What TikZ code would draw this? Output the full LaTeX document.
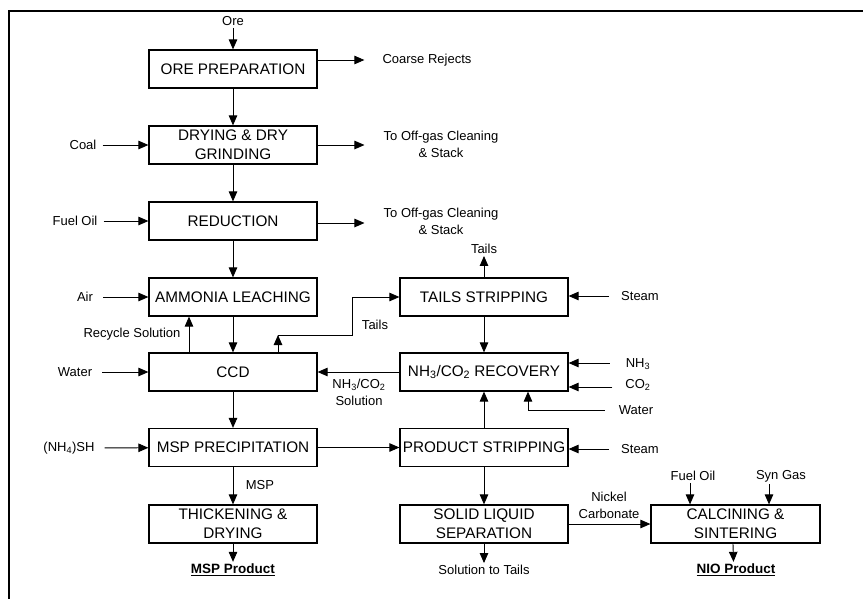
\documentclass[tikz,border=0pt]{standalone}
\usepackage{fontspec}
\setmainfont{Liberation Sans}
\usetikzlibrary{arrows.meta}
\begin{document}
\begin{tikzpicture}[x=1pt,y=-1pt,
  box/.style={draw, line width=1.2pt, minimum width=168pt, minimum height=38pt, inner sep=0pt, align=center, font=\fontsize{15.3}{19}\selectfont},
  lbl/.style={inner sep=2pt, align=center, font=\fontsize{13}{17}\selectfont},
  prod/.style={inner sep=2pt, font=\fontsize{13.5}{16}\selectfont\bfseries},
  arr/.style={draw, line width=0.9pt, -{Triangle[length=10pt,width=8.5pt]}},
]
\useasboundingbox (0,0) rectangle (863,598);
\draw[line width=1.5pt] (9,600) -- (9,11) -- (865,11);

% left column
\node[box] (ore) at (233,69) {ORE PREPARATION};
\node[box] (dry) at (233,145) {DRYING \& DRY\\GRINDING};
\node[box] (red) at (233,221) {REDUCTION};
\node[box] (amm) at (233,297) {AMMONIA LEACHING};
\node[box] (ccd) at (233,372) {CCD};
\node[box] (msp) at (233,447.5) {MSP PRECIPITATION};
\node[box] (thk) at (233,524) {THICKENING \&\\DRYING};
% right column
\node[box] (ts) at (484,297) {TAILS STRIPPING};
\node[box] (rec) at (484,372) {NH\textsubscript{3}/CO\textsubscript{2} RECOVERY};
\node[box] (ps) at (484,447.5) {PRODUCT STRIPPING};
\node[box] (sls) at (484,524) {SOLID LIQUID\\SEPARATION};
\node[box, minimum width=169pt] (calc) at (735.5,524) {CALCINING \&\\SINTERING};

% labels
\node[lbl] (orein) at (233,21) {Ore};
\node[lbl] (cr) at (427,60) {Coarse Rejects};
\node[lbl] (og1) at (441,144.5) {To Off-gas Cleaning\\\& Stack};
\node[lbl] (og2) at (441,221) {To Off-gas Cleaning\\\& Stack};
\node[lbl] (coal) at (83,145) {Coal};
\node[lbl] (fo1) at (75,221) {Fuel Oil};
\node[lbl] (air) at (85,297) {Air};
\node[lbl] (wat1) at (75,372) {Water};
\node[lbl] (nhsh) at (69,448) {(NH\textsubscript{4})SH};
\node[lbl] (rcy) at (132,334) {Recycle Solution};
\node[lbl] (tl1) at (375,325) {Tails};
\node[lbl] (tl2) at (484,249) {Tails};
\node[lbl] (st1) at (640,296) {Steam};
\node[lbl] (nh3) at (638,364) {NH\textsubscript{3}};
\node[lbl] (co2) at (638,385) {CO\textsubscript{2}};
\node[lbl] (wat2) at (636,410) {Water};
\node[lbl] (st2) at (640,449) {Steam};
\node[lbl] (sol) at (359,392) {NH\textsubscript{3}/CO\textsubscript{2}\\Solution};
\node[lbl] (mspl) at (260,485) {MSP};
\node[prod] (mspp) at (233,570) {\underline{MSP Product}};
\node[lbl] (stt) at (484,570) {Solution to Tails};
\node[lbl] (nc) at (609,505) {Nickel\\Carbonate};
\node[lbl] (fo2) at (693,476) {Fuel Oil};
\node[lbl] (sg) at (781,476) {Syn Gas};
\node[prod] (nio) at (736,570) {\underline{NIO Product}};

% main flow
\draw[arr] (orein) -- (ore);
\draw[arr] (ore) -- (dry);
\draw[arr] (dry) -- (red);
\draw[arr] (red) -- (amm);
\draw[arr] (amm) -- (ccd);
\draw[arr] (ccd) -- (msp);
\draw[arr] (msp) -- (thk);
\draw[arr] (thk) -- (mspp);
\draw[arr] (ts) -- (rec);
\draw[arr] (ps) -- (rec);
\draw[arr] (ps) -- (sls);
\draw[arr] (sls) -- (stt);
\draw[arr] (rec) -- (ccd);
\draw[arr] (msp) -- (ps);
\draw[arr] (sls) -- (calc);
\draw[arr] ([xshift=-2.5pt]calc.south) -- ([xshift=-2.5pt]nio.north);
\draw[arr] (ts) -- (tl2);

% outputs right
\draw[arr, shorten >=16pt] (ore.east |- cr) -- (cr);
\draw[arr, shorten >=17pt] (dry.east) -- (dry.east -| og1.west);
\draw[arr, shorten >=17pt] (red.east |- 0,223) -- (og1.west |- 0,223);

% inputs left
\draw[arr, shorten <=4pt] (coal) -- (dry);
\draw[arr, shorten <=4pt] (fo1) -- (red);
\draw[arr, shorten <=8pt] (air) -- (amm);
\draw[arr, shorten <=8pt] (wat1) -- (ccd);
\draw[arr, shorten <=8pt] (nhsh) -- (msp);

% inputs right
\draw[arr, shorten <=10pt] (st1) -- (st1 -| ts.east);
\draw[arr, shorten <=14pt] (nh3.west |- 0,363) -- (rec.east |- 0,363);
\draw[arr, shorten <=11pt] (co2.west |- 0,387) -- (rec.east |- 0,387);
\draw[arr] ([xshift=-12pt]wat2.west) -| ([xshift=44pt]rec.south);
\draw[arr, shorten <=10pt] (st2) -- (st2 -| ps.east);
\draw[arr] ([xshift=-3pt]fo2.south) -- ([xshift=-3pt]fo2.south |- calc.north);
\draw[arr] ([xshift=-12pt]sg.south) -- ([xshift=-12pt]sg.south |- calc.north);

% recycle and tails
\draw[arr] ([xshift=-44pt]ccd.north) -- ([xshift=-44pt]amm.south);
\coordinate (t1) at (278,335);
\coordinate (t2) at (352,335);
\draw[arr] (ccd.north -| t1) -- (t1);
\draw[arr] (t1) -- (t2) |- (ts.west);
\end{tikzpicture}
\end{document}
